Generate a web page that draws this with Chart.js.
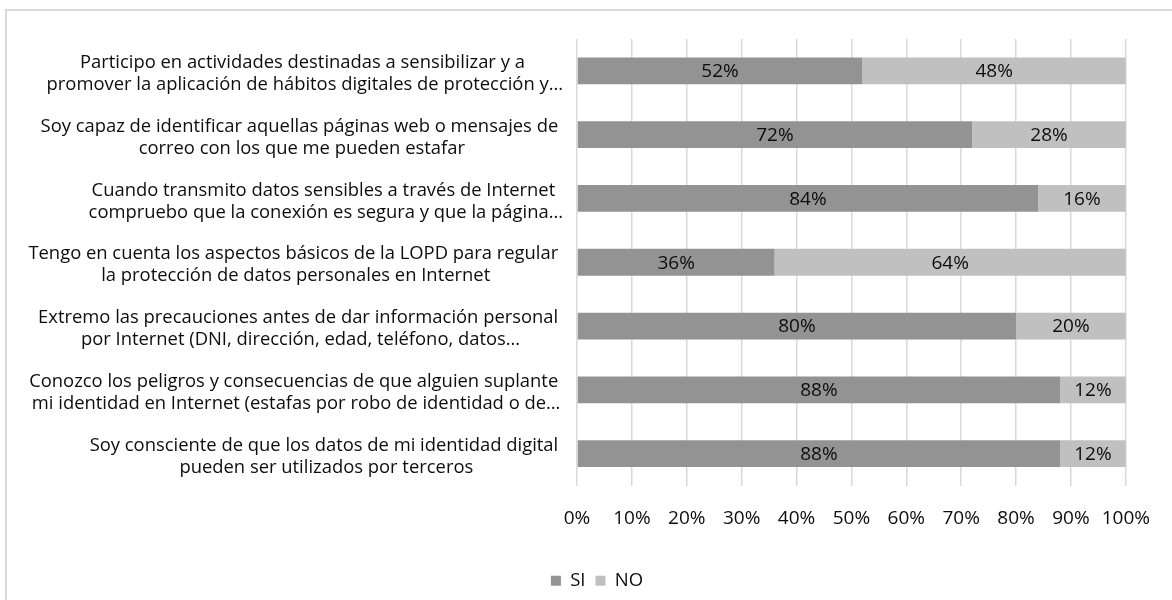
<!DOCTYPE html>
<html>
<head>
<meta charset="utf-8">
<script src="https://cdn.jsdelivr.net/npm/chart.js@4"></script>
<style>
  html, body { margin: 0; padding: 0; background: #ffffff; overflow: hidden; }
  #wrap { position: relative; width: 1172px; height: 600px; }
  #frame { position: absolute; left: 5px; top: 9px; width: 2000px; height: 2000px;
           border: 2px solid #d9d9d9; box-sizing: border-box; }
  #c { position: absolute; left: 0; top: 0; }
</style>
</head>
<body>
<div id="wrap">
  <div id="frame"></div>
  <canvas id="c" width="1172" height="600"></canvas>
</div>
<script>
// ---- data ----
const categories = [
  ["Participo en actividades destinadas a sensibilizar y a ", "promover la aplicación de hábitos digitales de protección y…"],
  ["Soy capaz de identificar aquellas páginas web o mensajes de ", "correo con los que me pueden estafar"],
  ["Cuando transmito datos sensibles a través de Internet ", "compruebo que la conexión es segura y que la página…"],
  ["Tengo en cuenta los aspectos básicos de la LOPD para regular ", "la protección de datos personales en Internet"],
  ["Extremo las precauciones antes de dar información personal ", "por Internet (DNI, dirección, edad, teléfono, datos…"],
  ["Conozco los peligros y consecuencias de que alguien suplante ", "mi identidad en Internet (estafas por robo de identidad o de…"],
  ["Soy consciente de que los datos de mi identidad digital ", "pueden ser utilizados por terceros"]
];
const seriesNames = ["SI", "NO"];
const siValues = [52, 72, 84, 36, 80, 88, 88];
const noValues = [48, 28, 16, 64, 20, 12, 12];
const xTicks = [0, 10, 20, 30, 40, 50, 60, 70, 80, 90, 100];

// ---- styles ----
const FONT = "'Open Sans', 'Noto Sans', sans-serif";
const TEXT = "#0d0d0d";

const catLabelPlugin = {
  id: 'catLabels',
  afterDraw(chart) {
    const ys = chart.scales.y;
    const ctx = chart.ctx;
    ctx.save();
    ctx.font = "18.4px " + FONT;
    ctx.fillStyle = TEXT;
    ctx.textAlign = 'center';
    ctx.textBaseline = 'middle';
    const rightEdge = chart.chartArea.left - 14;
    const lh = 22;
    categories.forEach((lines, i) => {
      const yc = ys.getPixelForTick(i) + 3;
      let w = 0;
      lines.forEach(l => { w = Math.max(w, ctx.measureText(l).width); });
      const xc = rightEdge - w / 2;
      lines.forEach((l, j) => {
        ctx.fillText(l, xc, yc + (j - (lines.length - 1) / 2) * lh);
      });
    });
    ctx.restore();
  }
};

const valueLabelPlugin = {
  id: 'valueLabels',
  afterDatasetsDraw(chart) {
    const ctx = chart.ctx;
    ctx.save();
    ctx.font = "19px " + FONT;
    ctx.fillStyle = TEXT;
    ctx.textAlign = 'center';
    ctx.textBaseline = 'middle';
    chart.data.datasets.forEach((ds, di) => {
      const meta = chart.getDatasetMeta(di);
      meta.data.forEach((bar, i) => {
        const v = ds.data[i];
        const x = (bar.base + bar.x) / 2;
        ctx.fillText(v + '%', x, bar.y + 1);
      });
    });
    ctx.restore();
  }
};

new Chart(document.getElementById('c'), {
  type: 'bar',
  data: {
    labels: categories,
    datasets: [
      { label: seriesNames[0], data: siValues, backgroundColor: '#939393', barPercentage: 0.42, categoryPercentage: 1.0 },
      { label: seriesNames[1], data: noValues, backgroundColor: '#c0c0c0', barPercentage: 0.42, categoryPercentage: 1.0 }
    ]
  },
  options: {
    indexAxis: 'y',
    responsive: false,
    animation: false,
    layout: { padding: { top: 39, left: 66, right: 44, bottom: 0 } },
    plugins: {
      legend: {
        position: 'bottom',
        labels: {
          boxWidth: 10, boxHeight: 10, padding: 10,
          color: TEXT,
          font: { family: FONT, size: 18.5 }
        }
      },
      tooltip: { enabled: false }
    },
    scales: {
      x: {
        stacked: true,
        min: 0, max: 100,
        afterBuildTicks(scale) { scale.ticks = xTicks.map(v => ({ value: v })); },
        afterFit(scale) { scale.height = 76; },
        grid: { color: '#d9d9d9', lineWidth: 1.5, drawTicks: false },
        border: { display: false },
        ticks: {
          autoSkip: false, maxRotation: 0, padding: 22,
          color: TEXT,
          font: { family: FONT, size: 19 },
          callback: (v) => v + '%'
        }
      },
      y: {
        stacked: true,
        afterFit(scale) { scale.width = 577 - 66; },
        grid: { display: false },
        border: { display: false },
        ticks: { display: false }
      }
    }
  },
  plugins: [catLabelPlugin, valueLabelPlugin]
});
</script>
</body>
</html>
